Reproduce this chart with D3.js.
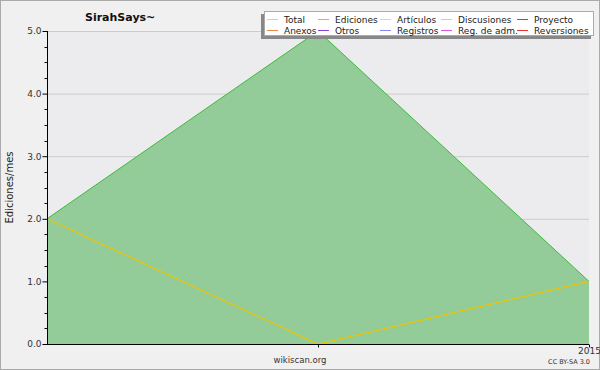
<!DOCTYPE html>
<html>
<head>
<meta charset="utf-8">
<script src="https://cdn.jsdelivr.net/npm/d3@7"></script>
<style>
  body { margin: 0; background: #fff; }
  svg text { font-family: "DejaVu Sans", sans-serif; }
</style>
</head>
<body>
<div id="chart"></div>
<script>
// datos
const meses = [0, 1, 2];
const etiquetasX = ["", "", "2015"];
const ediciones = [2, 5, 1];
const discusiones = [2, 0, 1];
const ticksY = [0, 1, 2, 3, 4, 5];

const leyendaNombres = ["Total", "Ediciones", "Artículos", "Discusiones", "Proyecto",
  "Anexos", "Otros", "Registros", "Reg. de adm.", "Reversiones"];
const leyendaColores = ["#aadddd", "#88cc88", "#ccee55", "#ffcc44", "#666666",
  "#ee8844", "#8844dd", "#8888ee", "#dd55dd", "#ee3333"];

const W = 600, H = 370;
const margen = { left: 47, right: 589, top: 31, bottom: 344 };

const SVG = d3.select("#chart")
  .append("svg")
  .attr("width", W)
  .attr("height", H);

// fondo y borde
SVG.append("rect")
  .attr("x", 0.5).attr("y", 0.5)
  .attr("width", W - 1).attr("height", H - 1)
  .attr("fill", "#f0f0f0")
  .attr("stroke", "#aaaaaa");

SVG.append("rect")
  .attr("x", margen.left).attr("y", margen.top)
  .attr("width", margen.right - margen.left)
  .attr("height", margen.bottom - margen.top)
  .attr("fill", "#ececee");

const escalaX = d3.scaleLinear()
  .domain([0, 2])
  .range([margen.left, margen.right]);

const escalaY = d3.scaleLinear()
  .domain([0, 5])
  .range([margen.bottom, margen.top]);

// grilla
SVG.append("g")
  .selectAll("line")
  .data(ticksY)
  .join("line")
  .attr("x1", margen.left)
  .attr("x2", margen.right)
  .attr("y1", d => escalaY(d) + 0.5)
  .attr("y2", d => escalaY(d) + 0.5)
  .attr("stroke", "#cccccc");

// area de ediciones
const area = d3.area()
  .x((d, i) => escalaX(meses[i]))
  .y0(escalaY(0))
  .y1(d => escalaY(d));

const linea = d3.line()
  .x((d, i) => escalaX(meses[i]))
  .y(d => escalaY(d));

SVG.append("path")
  .datum(ediciones)
  .attr("d", area)
  .attr("fill", "#93cc99");

SVG.append("path")
  .datum(ediciones)
  .attr("d", linea)
  .attr("fill", "none")
  .attr("stroke", "#3dba3d")
  .attr("stroke-width", 1);

SVG.append("path")
  .datum(discusiones)
  .attr("d", linea)
  .attr("fill", "none")
  .attr("stroke", "#eec400")
  .attr("stroke-width", 1.2);

// eje Y
const ejeY = d3.axisLeft(escalaY)
  .tickValues(ticksY)
  .tickFormat(d3.format(".1f"))
  .tickSize(5)
  .tickPadding(1);

const gY = SVG.append("g")
  .attr("transform", `translate(${margen.left + 0.5},0)`)
  .call(ejeY);
gY.select(".domain").attr("d", `M0,${margen.top}V${margen.bottom}`);
gY.selectAll("text")
  .style("font-size", "9px")
  .attr("fill", "#333");

// ticks menores
const menores = d3.range(0, 5.01, 0.25).filter(d => d % 1 !== 0);
gY.append("g")
  .selectAll("line")
  .data(menores)
  .join("line")
  .attr("x1", -3).attr("x2", 0)
  .attr("y1", d => Math.round(escalaY(d)) + 0.5)
  .attr("y2", d => Math.round(escalaY(d)) + 0.5)
  .attr("stroke", "#000");

// eje X
const ejeX = d3.axisBottom(escalaX)
  .tickValues(meses.slice(1))
  .tickFormat((d) => etiquetasX[d])
  .tickSize(3)
  .tickPadding(0);

const gX = SVG.append("g")
  .attr("transform", `translate(0,${margen.bottom + 0.5})`)
  .call(ejeX);
gX.select(".domain").attr("d", `M${margen.left},0H${margen.right}`);
gX.selectAll("text")
  .style("font-size", "9px")
  .attr("fill", "#333");

// textos
SVG.append("text")
  .attr("x", 85).attr("y", 21)
  .style("font-size", "11px")
  .style("font-weight", "bold")
  .attr("fill", "#111")
  .text("SirahSays~");

SVG.append("text")
  .attr("transform", `translate(13,${(margen.top + margen.bottom) / 2}) rotate(-90)`)
  .attr("text-anchor", "middle")
  .style("font-size", "10px")
  .attr("fill", "#222")
  .text("Ediciones/mes");

SVG.append("text")
  .attr("x", 300).attr("y", 363)
  .attr("text-anchor", "middle")
  .style("font-size", "8.5px")
  .attr("fill", "#333")
  .text("wikiscan.org");

SVG.append("text")
  .attr("x", 590).attr("y", 364)
  .attr("text-anchor", "end")
  .style("font-size", "6.5px")
  .attr("fill", "#333")
  .text("CC BY-SA 3.0");

// leyenda
const leyenda = SVG.append("g");
leyenda.append("rect")
  .attr("x", 261).attr("y", 14)
  .attr("width", 330).attr("height", 25)
  .attr("fill", "#888888");
leyenda.append("rect")
  .attr("x", 264.5).attr("y", 11.5)
  .attr("width", 329).attr("height", 24)
  .attr("fill", "#ffffff")
  .attr("stroke", "#aaaaaa");

const colX = [267, 318, 380, 441, 517];
const items = leyenda.selectAll("g.item")
  .data(leyendaNombres)
  .join("g")
  .attr("class", "item")
  .attr("transform", (d, i) => `translate(${colX[i % 5]},${i < 5 ? 19 : 30})`);

items.append("line")
  .attr("x1", 0).attr("x2", 11)
  .attr("y1", 0.5).attr("y2", 0.5)
  .attr("stroke", (d, i) => leyendaColores[i]);

items.append("text")
  .attr("x", 17).attr("y", 4)
  .style("font-size", "9px")
  .attr("fill", "#222")
  .text(d => d);
</script>
</body>
</html>
